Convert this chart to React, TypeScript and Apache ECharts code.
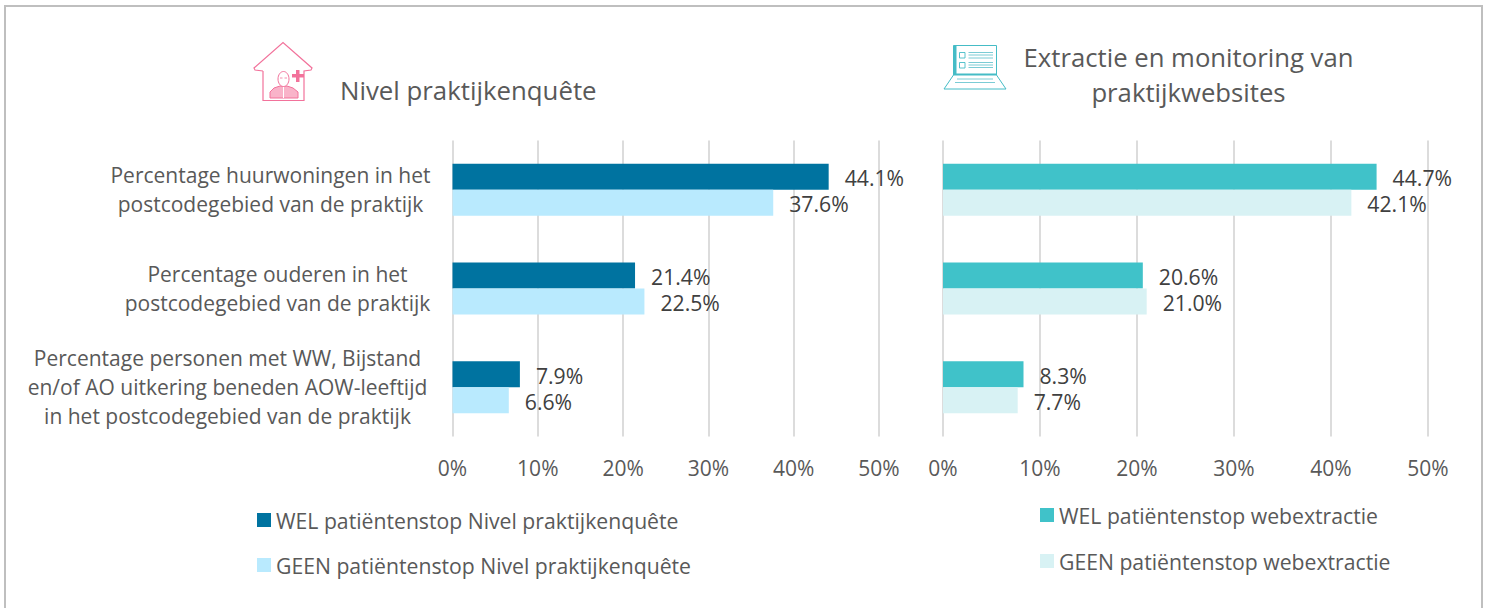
import React, { useEffect, useRef } from "react";
import * as echarts from "echarts";

const categories = [
  "Percentage huurwoningen in het\npostcodegebied van de praktijk",
  "Percentage ouderen in het\npostcodegebied van de praktijk",
  "Percentage personen met WW, Bijstand\nen/of AO uitkering beneden AOW-leeftijd\nin het postcodegebied van de praktijk",
];
const welNivel = [44.1, 21.4, 7.9];
const geenNivel = [37.6, 22.5, 6.6];
const welWeb = [44.7, 20.6, 8.3];
const geenWeb = [42.1, 21.0, 7.7];
const seriesNames = [
  "WEL patiëntenstop Nivel praktijkenquête",
  "GEEN patiëntenstop Nivel praktijkenquête",
  "WEL patiëntenstop webextractie",
  "GEEN patiëntenstop webextractie",
];
const titleLeft = "Nivel praktijkenquête";
const titleRight = "Extractie en monitoring van\npraktijkwebsites";

const FONT = "'Open Sans', 'Noto Sans', sans-serif";
const GREY = "#595959";
const PINK = "#f2729b";
const TEAL = "#45bcc6";

function houseIcon() {
  return {
    type: "group",
    silent: true,
    children: [
      { type: "polyline", shape: { points: [[263, 71], [255, 70], [254, 68], [283, 42.5], [312, 68], [311, 70], [304, 71], [304, 100.5], [263, 100.5], [263, 71]] }, style: { stroke: PINK, fill: "none", lineWidth: 1.2 } },
      { type: "polygon", shape: { points: [[270, 98], [270, 92], [274, 88], [280, 86], [287, 86], [293, 88], [298, 92], [298, 98]] }, style: { fill: "#f9b3c9", stroke: PINK, lineWidth: 1 } },
      { type: "line", shape: { x1: 283.5, y1: 87, x2: 283.5, y2: 98 }, style: { stroke: "#ffffff", lineWidth: 1 } },
      { type: "ellipse", shape: { cx: 283.5, cy: 79, rx: 5.5, ry: 7.5 }, style: { fill: "#ffffff", stroke: PINK, lineWidth: 1 } },
      { type: "line", shape: { x1: 280, y1: 78, x2: 282.5, y2: 78 }, style: { stroke: PINK, lineWidth: 0.8 } },
      { type: "line", shape: { x1: 284.5, y1: 78, x2: 287, y2: 78 }, style: { stroke: PINK, lineWidth: 0.8 } },
      { type: "rect", shape: { x: 292, y: 74, width: 12, height: 3.5 }, style: { fill: PINK } },
      { type: "rect", shape: { x: 296, y: 70, width: 3.5, height: 12 }, style: { fill: PINK } },
    ],
  };
}

function laptopIcon() {
  const lines = [52.5, 55, 58, 62.5, 65, 67.5].map((y) => ({
    type: "line",
    shape: { x1: 968.5, y1: y, x2: 993, y2: y },
    style: { stroke: "#6cc6d0", lineWidth: 0.9 },
  }));
  return {
    type: "group",
    silent: true,
    children: [
      { type: "rect", shape: { x: 953.5, y: 45.5, width: 43, height: 29.5 }, style: { fill: "#ffffff", stroke: TEAL, lineWidth: 1 } },
      { type: "rect", shape: { x: 953.5, y: 45.5, width: 3, height: 29.5 }, style: { fill: TEAL } },
      { type: "rect", shape: { x: 953.5, y: 73.5, width: 43, height: 1.5 }, style: { fill: TEAL } },
      { type: "rect", shape: { x: 959.5, y: 52.5, width: 5.5, height: 5.5 }, style: { fill: "#ffffff", stroke: TEAL, lineWidth: 0.9 } },
      { type: "rect", shape: { x: 959.5, y: 62.5, width: 5.5, height: 5.5 }, style: { fill: "#ffffff", stroke: TEAL, lineWidth: 0.9 } },
      ...lines,
      { type: "polygon", shape: { points: [[953.5, 75], [996.5, 75], [1006, 89], [944, 89]] }, style: { fill: "#ffffff", stroke: TEAL, lineWidth: 1 } },
      { type: "line", shape: { x1: 957, y1: 79, x2: 993, y2: 79 }, style: { stroke: "#6cc6d0", lineWidth: 0.9 } },
      { type: "line", shape: { x1: 955, y1: 82.5, x2: 995, y2: 82.5 }, style: { stroke: "#6cc6d0", lineWidth: 0.9 } },
    ],
  };
}

const labelWidths = [320, 306, 406];

function barSeries(name: string, data: number[], color: string, axis: number) {
  return {
    name,
    type: "bar",
    data,
    xAxisIndex: axis,
    yAxisIndex: axis,
    barWidth: 26,
    barGap: "0%",
    itemStyle: { color },
    label: {
      show: true,
      position: "right",
      distance: 15,
      offset: [1, 1],
      fontFamily: FONT,
      fontSize: 21.2,
      color: "#404040",
      formatter: (p: any) => `${p.value.toFixed(1)}%`,
    },
  };
}

function xAxis(gridIndex: number) {
  return {
    type: "value",
    gridIndex,
    min: 0,
    max: 50,
    interval: 10,
    axisLine: { show: false },
    axisTick: { show: false },
    splitLine: { show: true, lineStyle: { color: "#dcdcdc", width: 2 } },
    axisLabel: {
      fontFamily: FONT,
      fontSize: 21,
      color: GREY,
      margin: 21,
      formatter: "{value}%",
    },
  };
}

export default function App() {
  const ref = useRef<HTMLDivElement>(null);
  useEffect(() => {
    document.body.style.margin = "0";
    const chart = echarts.init(ref.current!, null, { renderer: "svg" });
    chart.setOption({
      animation: false,
      backgroundColor: "#ffffff",
      grid: [
        { left: 452.5, width: 426.5, top: 140.5, height: 296 },
        { left: 943, width: 485, top: 140.5, height: 296 },
      ],
      title: [
        { text: titleLeft, left: 340, top: 77, padding: 0, textStyle: { fontFamily: FONT, fontSize: 25.8, fontWeight: "normal", color: GREY } },
        { text: titleRight, left: 1188.5, top: 39.5, padding: 0, textAlign: "center", textStyle: { fontFamily: FONT, fontSize: 25.7, fontWeight: "normal", color: GREY, lineHeight: 35 } },
      ],
      xAxis: [xAxis(0), xAxis(1)],
      yAxis: [
        {
          type: "category",
          gridIndex: 0,
          inverse: true,
          data: categories,
          axisLine: { show: false },
          axisTick: { show: false },
          axisLabel: {
            margin: 22,
            interval: 0,
            fontFamily: FONT,
            fontSize: 21,
            color: GREY,
            formatter: (v: string, i: number) =>
              v.split("\n").map((l) => `{c${i}|${l}}`).join("\n"),
            rich: Object.fromEntries(
              labelWidths.map((w, i) => [
                `c${i}`,
                { width: w, align: "center", lineHeight: 29, fontFamily: FONT, fontSize: 21, color: GREY },
              ]),
            ),
          },
        },
        {
          type: "category",
          gridIndex: 1,
          inverse: true,
          data: categories,
          axisLine: { show: false },
          axisTick: { show: false },
          axisLabel: { show: false },
        },
      ],
      legend: [
        {
          data: [seriesNames[0], seriesNames[1]],
          orient: "vertical",
          left: 257,
          top: 509.5,
          padding: 0,
          itemWidth: 14,
          itemHeight: 14,
          itemGap: 24,
          icon: "rect",
          selectedMode: false,
          textStyle: { fontFamily: FONT, fontSize: 21.2, color: GREY },
        },
        {
          data: [seriesNames[2], seriesNames[3]],
          orient: "vertical",
          left: 1040,
          top: 504.5,
          padding: 0,
          itemWidth: 14,
          itemHeight: 14,
          itemGap: 25,
          icon: "rect",
          selectedMode: false,
          textStyle: { fontFamily: FONT, fontSize: 21.2, color: GREY },
        },
      ],
      series: [
        barSeries(seriesNames[0], welNivel, "#0073a0", 0),
        barSeries(seriesNames[1], geenNivel, "#b9eafe", 0),
        barSeries(seriesNames[2], welWeb, "#40c2c9", 1),
        barSeries(seriesNames[3], geenWeb, "#d8f2f4", 1),
      ],
      graphic: [
        { type: "rect", silent: true, shape: { x: 5, y: 6, width: 1477, height: 620 }, style: { fill: "none", stroke: "#bfbfbf", lineWidth: 2 } },
        houseIcon(),
        laptopIcon(),
      ],
    });
    return () => chart.dispose();
  }, []);
  return <div ref={ref} style={{ width: 1486, height: 608 }} />;
}
